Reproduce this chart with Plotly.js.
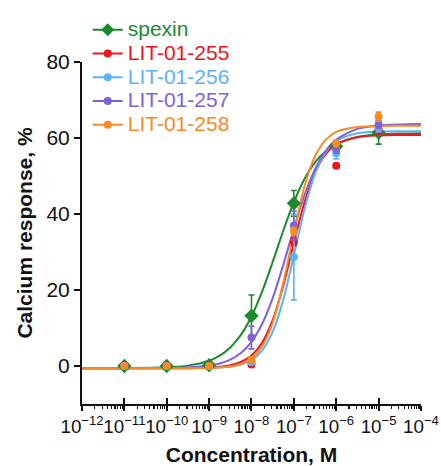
<!DOCTYPE html>
<html>
<head>
<meta charset="utf-8">
<script src="https://cdn.plot.ly/plotly-3.0.1.min.js"></script>
<style>html,body{margin:0;padding:0;background:#fff}</style>
</head>
<body>
<div id="chart" style="width:441px;height:466px"></div>
<script>
// Series names and colours
const seriesNames = ['spexin', 'LIT-01-255', 'LIT-01-256', 'LIT-01-257', 'LIT-01-258'];
const seriesColors = ['#1b8a2f', '#f0141e', '#5cb3f5', '#7f62d9', '#f78b26'];
const seriesSymbols = ['diamond', 'circle', 'circle', 'circle', 'circle'];

// Measured points: log10 of concentration (M)
const pointLogConc = [-11, -10, -9, -8, -7, -6, -5];
const spexinMean   = [0, 0, 0.2, 13.2, 42.8, 57.8, 61.4];
const spexinErr    = [0, 0, 0.3, 5.5, 3.4, 1.0, 3.0];
const lit255Mean   = [0, 0, 0, 0.4, 32.7, 52.7, 62.0];
const lit255Err    = [0, 0, 0, 0.5, 1.0, 0.5, 1.0];
const lit256Mean   = [0, 0, 0, 1.0, 28.7, 56.0, 62.6];
const lit256Err    = [0, 0, 0, 0.5, 11.3, 1.5, 1.0];
const lit257Mean   = [0, 0, 0, 7.5, 37.0, 57.0, 63.5];
const lit257Err    = [0, 0, 0, 3.0, 3.8, 1.0, 1.0];
const lit258Mean   = [0, 0, 0, 1.6, 35.5, 58.6, 65.6];
const lit258Err    = [0, 0, 0, 0.8, 1.0, 0.8, 1.2];

// Fitted curves at these log10 concentrations
const curveLogConc = [-12, -11, -10, -9.5, -9, -8.75, -8.5, -8.25, -8, -7.75, -7.5, -7.25, -7, -6.75, -6.5, -6.25, -6, -5.5, -5, -4.5, -4];
const spexinCurve = [-0.6, -0.57, -0.36, 0.10, 1.39, 2.72, 4.87, 8.19, 13.03, 19.56, 27.36, 35.6, 43.1, 49.2, 53.6, 56.5, 58.4, 60.3, 60.95, 61.18, 61.26];
const lit255Curve = [-0.6, -0.6, -0.59, -0.56, -0.42, -0.22, 0.19, 1.05, 2.78, 6.12, 12.07, 21.17, 32.4, 43.0, 50.9, 55.7, 58.3, 60.2, 60.66, 60.77, 60.8];
const lit256Curve = [-0.6, -0.6, -0.6, -0.58, -0.51, -0.40, -0.15, 0.39, 1.58, 4.07, 8.97, 17.4, 29.1, 41.2, 50.6, 56.2, 59.2, 61.26, 61.7, 61.78, 61.8];
const lit257Curve = [-0.6, -0.59, -0.54, -0.39, 0.11, 0.67, 1.68, 3.43, 6.37, 11.05, 17.86, 26.6, 36.14, 44.94, 51.82, 56.58, 59.58, 62.4, 63.3, 63.58, 63.66];
const lit258Curve = [-0.6, -0.6, -0.6, -0.58, -0.51, -0.39, -0.12, 0.52, 1.98, 5.13, 11.38, 21.83, 35.1, 47.2, 55.2, 59.5, 61.6, 62.9, 63.14, 63.2, 63.2];

const means = [spexinMean, lit255Mean, lit256Mean, lit257Mean, lit258Mean];
const errs = [spexinErr, lit255Err, lit256Err, lit257Err, lit258Err];
const curves = [spexinCurve, lit255Curve, lit256Curve, lit257Curve, lit258Curve];

const toConc = e => Math.pow(10, e);
const font = 'Liberation Sans, Arial, Helvetica, sans-serif';

const traces = [];
// curves
curves.forEach((c, i) => {
  traces.push({
    x: curveLogConc.map(toConc), y: c, type: 'scatter', mode: 'lines',
    line: {color: seriesColors[i], width: 2, shape: 'spline', smoothing: 0.8},
    showlegend: false, hoverinfo: 'skip'
  });
});
// points
means.forEach((m, i) => {
  traces.push({
    x: pointLogConc.map(toConc), y: m, type: 'scatter', mode: 'markers',
    marker: {color: seriesColors[i], symbol: seriesSymbols[i], size: i === 0 ? 11 : 8},
    error_y: {type: 'data', array: errs[i], visible: true, color: seriesColors[i], thickness: 1.6, width: 3},
    showlegend: false
  });
});
// legend entries
seriesNames.forEach((n, i) => {
  traces.push({
    x: [null], y: [null], type: 'scatter', mode: 'lines+markers',
    name: '<span style="color:' + seriesColors[i] + ';font-size:21px">' + n + '</span>',
    line: {color: seriesColors[i], width: 2},
    marker: {color: seriesColors[i], symbol: seriesSymbols[i], size: i === 0 ? 10 : 8}
  });
});

const layout = {
  width: 441, height: 466,
  margin: {l: 82, r: 20, t: 62, b: 62},
  paper_bgcolor: '#fff', plot_bgcolor: '#fff',
  font: {family: font, color: '#111'},
  showlegend: true,
  legend: {x: 0.017, y: 1.144, xanchor: 'left', yanchor: 'top', bgcolor: 'rgba(0,0,0,0)',
           font: {size: 16, family: font}, itemwidth: 30, tracegroupgap: 0},
  xaxis: {
    type: 'log', range: [-12, -3.999], dtick: 1, exponentformat: 'power',
    showline: true, linecolor: '#111', linewidth: 2, mirror: false,
    ticks: 'outside', ticklen: 5, tickwidth: 2, tickcolor: '#111',
    tickangle: 0, tickfont: {size: 15, family: font, color: '#111'},
    ticklabeloverflow: 'allow', automargin: false,
    showgrid: false, zeroline: false,
    minor: {ticks: 'outside', ticklen: 3, tickwidth: 1.2, tickcolor: '#111', dtick: 'D1', showgrid: false},
    title: {text: 'Concentration, M', font: {size: 21, family: font, weight: 'bold', color: '#111'}, standoff: 13}
  },
  xaxis2: {
    type: 'log', range: [-12, -3.999], dtick: 1, overlaying: 'x', anchor: 'y',
    ticks: 'inside', ticklen: 6, tickwidth: 2, tickcolor: '#111',
    showticklabels: false, showline: false, showgrid: false, zeroline: false
  },
  yaxis: {
    range: [-10, 80], tick0: 0, dtick: 20,
    showline: true, linecolor: '#111', linewidth: 2,
    ticks: 'outside', ticklen: 6, tickwidth: 2, tickcolor: '#111',
    tickfont: {size: 21, family: font, color: '#111'},
    showgrid: false, zeroline: false,
    title: {text: 'Calcium response, %', font: {size: 21, family: font, weight: 'bold', color: '#111'}, standoff: 8}
  }
};
traces.push({x: [null], y: [null], xaxis: 'x2', yaxis: 'y', showlegend: false, hoverinfo: 'skip', mode: 'markers'});

Plotly.newPlot('chart', traces, layout, {staticPlot: true, displayModeBar: false});
</script>
</body>
</html>
